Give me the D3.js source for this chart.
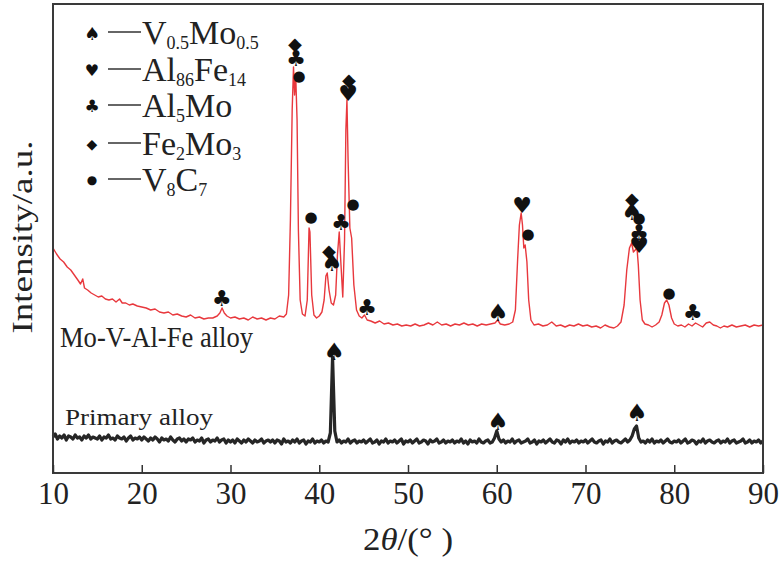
<!DOCTYPE html>
<html>
<head>
<meta charset="utf-8">
<script src="https://cdn.jsdelivr.net/npm/d3@7"></script>
<style>
  body { margin: 0; background: #fff; }
  text { font-family: "Liberation Serif", "Times New Roman", serif; fill: #222; }
  .mark { font-family: "DejaVu Sans", sans-serif; fill: #111; }
</style>
</head>
<body>
<div id="chart"></div>
<script>
// x axis ticks, 2theta in degrees
const thetaTicks = [10, 20, 30, 40, 50, 60, 70, 80, 90];

// Mo-V-Al-Fe alloy pattern, [2theta, intensity a.u.]
const redAlloy = [
  [10.0, 225], [10.4, 219], [10.8, 214], [11.2, 211], [11.6, 206], [12.0, 203], [12.4, 198],
  [12.8, 193], [13.1, 189], [13.35, 194], [13.55, 185], [13.9, 183], [14.3, 180], [14.7, 178],
  [15.1, 176], [15.5, 177], [15.9, 174], [16.3, 173], [16.7, 174], [17.1, 171], [17.5, 174],
  [17.8, 170], [18.2, 170], [18.6, 168], [19.0, 169], [19.5, 167], [20.0, 166], [20.5, 165],
  [21.0, 163], [21.5, 164], [22.0, 161], [22.5, 160], [23.0, 161], [23.5, 158], [24.0, 159],
  [24.5, 157], [25.0, 156], [25.5, 158], [26.0, 155], [26.5, 156], [27.0, 154], [27.5, 155],
  [28.0, 155], [28.5, 157], [28.8, 160], [29.05, 165], [29.3, 160], [29.6, 157], [30.0, 155],
  [30.5, 156], [31.0, 154], [31.5, 155], [32.0, 153], [32.5, 156], [33.0, 154], [33.5, 155],
  [34.0, 153], [34.5, 155], [35.0, 154], [35.5, 157], [36.0, 156], [36.3, 159], [36.55, 178],
  [36.75, 253], [36.95, 363], [37.1, 406], [37.22, 378], [37.35, 397], [37.5, 353], [37.65, 243],
  [37.85, 173], [38.1, 159], [38.4, 157], [38.65, 173], [38.85, 245], [38.95, 241], [39.15, 178],
  [39.4, 158], [39.7, 155], [40.0, 157], [40.3, 161], [40.55, 173], [40.75, 197], [40.9, 200],
  [41.1, 183], [41.35, 170], [41.6, 168], [41.85, 178], [42.05, 218], [42.25, 241], [42.45, 208],
  [42.65, 176], [42.85, 233], [43.0, 343], [43.12, 373], [43.25, 313], [43.45, 245], [43.65, 235],
  [43.9, 188], [44.2, 163], [44.5, 157], [44.8, 155], [45.1, 158], [45.4, 153], [45.8, 152],
  [46.3, 150], [46.8, 152], [47.3, 149], [47.8, 150], [48.3, 148], [48.8, 149], [49.3, 147],
  [49.8, 148], [50.3, 147], [50.8, 149], [51.3, 147], [51.8, 148], [52.3, 150], [52.8, 148],
  [53.3, 151], [53.8, 148], [54.3, 149], [54.8, 147], [55.3, 149], [55.8, 148], [56.3, 150],
  [56.8, 148], [57.3, 149], [57.8, 147], [58.3, 149], [58.8, 148], [59.3, 149], [59.8, 150],
  [60.1, 153], [60.4, 149], [60.9, 148], [61.4, 149], [61.8, 151], [62.1, 163], [62.35, 213],
  [62.55, 248], [62.75, 260], [62.9, 248], [63.05, 225], [63.2, 228], [63.4, 211], [63.6, 173],
  [63.85, 153], [64.2, 148], [64.7, 149], [65.2, 147], [65.7, 148], [66.2, 151], [66.7, 147],
  [67.2, 148], [67.7, 146], [68.2, 148], [68.7, 147], [69.2, 149], [69.7, 147], [70.2, 148],
  [70.7, 146], [71.2, 147], [71.7, 145], [72.2, 148], [72.7, 146], [73.2, 145], [73.6, 147],
  [74.0, 151], [74.35, 168], [74.65, 203], [74.95, 225], [75.2, 230], [75.4, 221], [75.6, 223],
  [75.8, 225], [75.95, 208], [76.15, 173], [76.4, 153], [76.7, 149], [77.1, 148], [77.5, 146],
  [77.9, 148], [78.3, 151], [78.6, 158], [78.9, 170], [79.15, 173], [79.4, 168], [79.7, 155],
  [80.0, 149], [80.4, 147], [80.8, 148], [81.2, 146], [81.6, 149], [82.0, 147], [82.4, 150],
  [82.8, 148], [83.2, 146], [83.6, 150], [84.0, 151], [84.4, 148], [84.8, 147], [85.2, 145],
  [85.6, 147], [86.0, 146], [86.5, 148], [87.0, 146], [87.5, 147], [88.0, 148], [88.5, 146],
  [89.0, 148], [89.5, 147], [90.0, 148]
];

// Primary alloy pattern: measured on a 0.25 deg step from 10 to 90, intensity a.u.
const primaryStep = 0.25;
const primaryI = [
  36, 39, 34, 37, 35, 38, 33, 37, 36, 34, 38, 35, 36, 33, 37, 35, 38, 34, 36, 35,
  34, 37, 33, 36, 35, 38, 34, 35, 33, 37, 35, 34, 36, 32, 35, 37, 33, 35, 34, 36,
  33, 36, 34, 32, 35, 33, 36, 34, 31, 35, 33, 34, 32, 36, 33, 31, 34, 35, 32, 34,
  31, 34, 33, 35, 31, 33, 32, 35, 30, 33, 34, 31, 33, 32, 35, 31, 33, 34, 30, 33,
  31, 33, 30, 34, 32, 30, 33, 31, 34, 32, 30, 33, 31, 32, 34, 30, 32, 33, 31, 33,
  30, 33, 32, 29, 34, 31, 32, 30, 33, 31, 34, 30, 32, 33, 29, 32, 31, 34, 30, 32,
  31, 33, 30, 32, 31, 40, 116, 42, 31, 33, 30, 32, 31, 34, 30, 32, 33, 30, 32, 31,
  33, 30, 32, 34, 30, 31, 33, 29, 32, 31, 34, 30, 32, 31, 33, 30, 32, 34, 29, 32,
  31, 33, 30, 32, 34, 30, 31, 33, 32, 29, 33, 31, 32, 34, 30, 31, 33, 30, 32, 31,
  33, 30, 32, 31, 34, 30, 32, 29, 33, 31, 32, 30, 34, 31, 30, 32, 33, 30, 31, 35,
  42, 34, 31, 33, 30, 32, 31, 34, 30, 32, 33, 30, 31, 32, 34, 30, 31, 33, 29, 32,
  31, 33, 30, 32, 34, 31, 30, 33, 32, 29, 33, 31, 34, 30, 32, 31, 33, 30, 32, 31,
  33, 30, 32, 34, 31, 30, 32, 33, 29, 32, 31, 34, 30, 32, 33, 31, 30, 32, 34, 31,
  33, 37, 44, 47, 35, 31, 32, 30, 33, 31, 34, 30, 32, 31, 33, 30, 32, 34, 31, 30,
  32, 31, 33, 30, 32, 34, 30, 31, 33, 32, 29, 32, 31, 34, 30, 32, 33, 31, 30, 32,
  33, 30, 32, 31, 34, 30, 32, 33, 30, 31, 32, 34, 30, 31, 33, 30, 32, 31, 33, 30,
  32
];

// phase symbols and names (text, subscript?)
const phaseSymbols = ["\u2660", "\u2665", "\u2663", "\u25C6", "\u25CF"];
const phaseNames = [
  [["V", false], ["0.5", true], ["Mo", false], ["0.5", true]],
  [["Al", false], ["86", true], ["Fe", false], ["14", true]],
  [["Al", false], ["5", true], ["Mo", false]],
  [["Fe", false], ["2", true], ["Mo", false], ["3", true]],
  [["V", false], ["8", true], ["C", false], ["7", true]]
];

// peak labels: [2theta, intensity, phase index]
const redMarks = [
  [37.27, 430, 3], [37.38, 415, 2], [37.72, 397, 4],
  [39.07, 256, 4], [41.10, 223, 3], [41.44, 210, 0], [42.45, 251, 2],
  [43.35, 394, 3], [43.24, 380, 1], [43.80, 269, 4], [45.38, 166, 2],
  [29.04, 175, 2], [60.14, 160, 0], [62.85, 268, 1], [63.52, 239, 4],
  [75.24, 275, 3], [75.24, 261, 0], [76.03, 255, 4], [76.03, 241, 2], [76.03, 228, 1],
  [79.41, 180, 4], [82.11, 161, 2]
];
const primaryMarks = [
  [41.70, 121, 0], [60.14, 51, 0], [75.80, 60, 0]
];

const width = 782;
const height = 561;
const margin = { top: 4, right: 19, bottom: 88, left: 53 };

const svg = d3.select("#chart")
    .append("svg")
    .attr("width", width)
    .attr("height", height);

const xScale = d3.scaleLinear()
    .domain([10, 90])
    .range([margin.left, width - margin.right]);

const yScale = d3.scaleLinear()
    .domain([0, 470])
    .range([height - margin.bottom, height - margin.bottom - 470]);

const line = d3.line()
    .x(d => xScale(d[0]))
    .y(d => yScale(d[1]));

const primaryAlloy = primaryI.map((v, i) => [10 + i * primaryStep, v]);

// curves
svg.append("path")
    .datum(primaryAlloy)
    .attr("d", line)
    .attr("fill", "none")
    .attr("stroke", "#262626")
    .attr("stroke-width", 3.2)
    .attr("stroke-linejoin", "round");

svg.append("path")
    .datum(redAlloy)
    .attr("d", line)
    .attr("fill", "none")
    .attr("stroke", "#e8383d")
    .attr("stroke-width", 1.4)
    .attr("stroke-linejoin", "round");

// peak markers
const sizes = [24, 22, 22, 18, 15];
svg.selectAll(".mark")
    .data(redMarks.concat(primaryMarks))
    .enter()
    .append("text")
    .attr("class", "mark")
    .attr("x", d => xScale(d[0]))
    .attr("y", d => yScale(d[1]))
    .attr("text-anchor", "middle")
    .attr("dominant-baseline", "central")
    .style("font-size", d => sizes[d[2]] + "px")
    .text(d => phaseSymbols[d[2]]);

// frame
svg.append("rect")
    .attr("x", margin.left)
    .attr("y", margin.top)
    .attr("width", width - margin.left - margin.right)
    .attr("height", height - margin.top - margin.bottom)
    .attr("fill", "none")
    .attr("stroke", "#3a3a3a")
    .attr("stroke-width", 2);

// x axis with inward ticks
const xAxis = d3.axisBottom(xScale)
    .tickValues(thetaTicks)
    .tickSizeInner(-8)
    .tickSizeOuter(0)
    .tickPadding(9);

const gx = svg.append("g")
    .attr("transform", `translate(0, ${height - margin.bottom})`)
    .call(xAxis);
gx.select(".domain").remove();
gx.selectAll(".tick line").attr("stroke", "#333").attr("stroke-width", 1.5);
gx.selectAll(".tick text")
    .attr("dy", "0.71em")
    .style("font-family", "'Liberation Serif', serif")
    .style("font-size", "31px")
    .attr("fill", "#222");

// axis titles
const xt = svg.append("text")
    .attr("x", (margin.left + width - margin.right) / 2)
    .attr("y", 550)
    .attr("text-anchor", "middle")
    .attr("textLength", 90)
    .attr("lengthAdjust", "spacingAndGlyphs")
    .style("font-size", "31px");
xt.append("tspan").text("2");
xt.append("tspan").style("font-style", "italic").text("\u03B8");
xt.append("tspan").text("/(\u00B0 )");

svg.append("text")
    .attr("transform", "translate(32, 237) rotate(-90)")
    .attr("text-anchor", "middle")
    .attr("textLength", 193)
    .attr("lengthAdjust", "spacingAndGlyphs")
    .style("font-size", "30px")
    .text("Intensity/a.u.");

// curve labels
svg.append("text")
    .attr("x", 60)
    .attr("y", 347)
    .attr("textLength", 193)
    .attr("lengthAdjust", "spacingAndGlyphs")
    .style("font-size", "29px")
    .text("Mo-V-Al-Fe alloy");

svg.append("text")
    .attr("x", 65)
    .attr("y", 425)
    .attr("textLength", 148)
    .attr("lengthAdjust", "spacingAndGlyphs")
    .style("font-size", "24px")
    .text("Primary alloy");

// legend
const rowY = [32, 69, 105, 143, 179];
const legendSizes = [18, 16, 17, 14, 12];
const legend = svg.append("g");
const rows = legend.selectAll(".legend")
    .data(phaseNames)
    .enter()
    .append("g")
    .attr("class", "legend")
    .attr("transform", (d, i) => `translate(0, ${rowY[i]})`);

rows.append("text")
    .attr("class", "mark")
    .attr("x", 92)
    .attr("y", 1)
    .attr("text-anchor", "middle")
    .attr("dominant-baseline", "central")
    .style("font-size", (d, i) => legendSizes[i] + "px")
    .text((d, i) => phaseSymbols[i]);

rows.append("line")
    .attr("x1", 108)
    .attr("x2", 141)
    .attr("y1", 0)
    .attr("y2", 0)
    .attr("stroke", "#333")
    .attr("stroke-width", 1.3);

const labels = rows.append("text")
    .attr("x", 142)
    .attr("y", 12)
    .style("font-size", "34px");

labels.selectAll("tspan")
    .data(d => d)
    .enter()
    .append("tspan")
    .style("font-size", d => d[1] ? "18px" : "34px")
    .attr("dy", (d, i, nodes) => {
        const prev = i > 0 ? nodes[i - 1].__data__[1] : false;
        if (d[1] && !prev) return 5;
        if (!d[1] && prev) return -5;
        return 0;
    })
    .text(d => d[0]);
</script>
</body>
</html>
